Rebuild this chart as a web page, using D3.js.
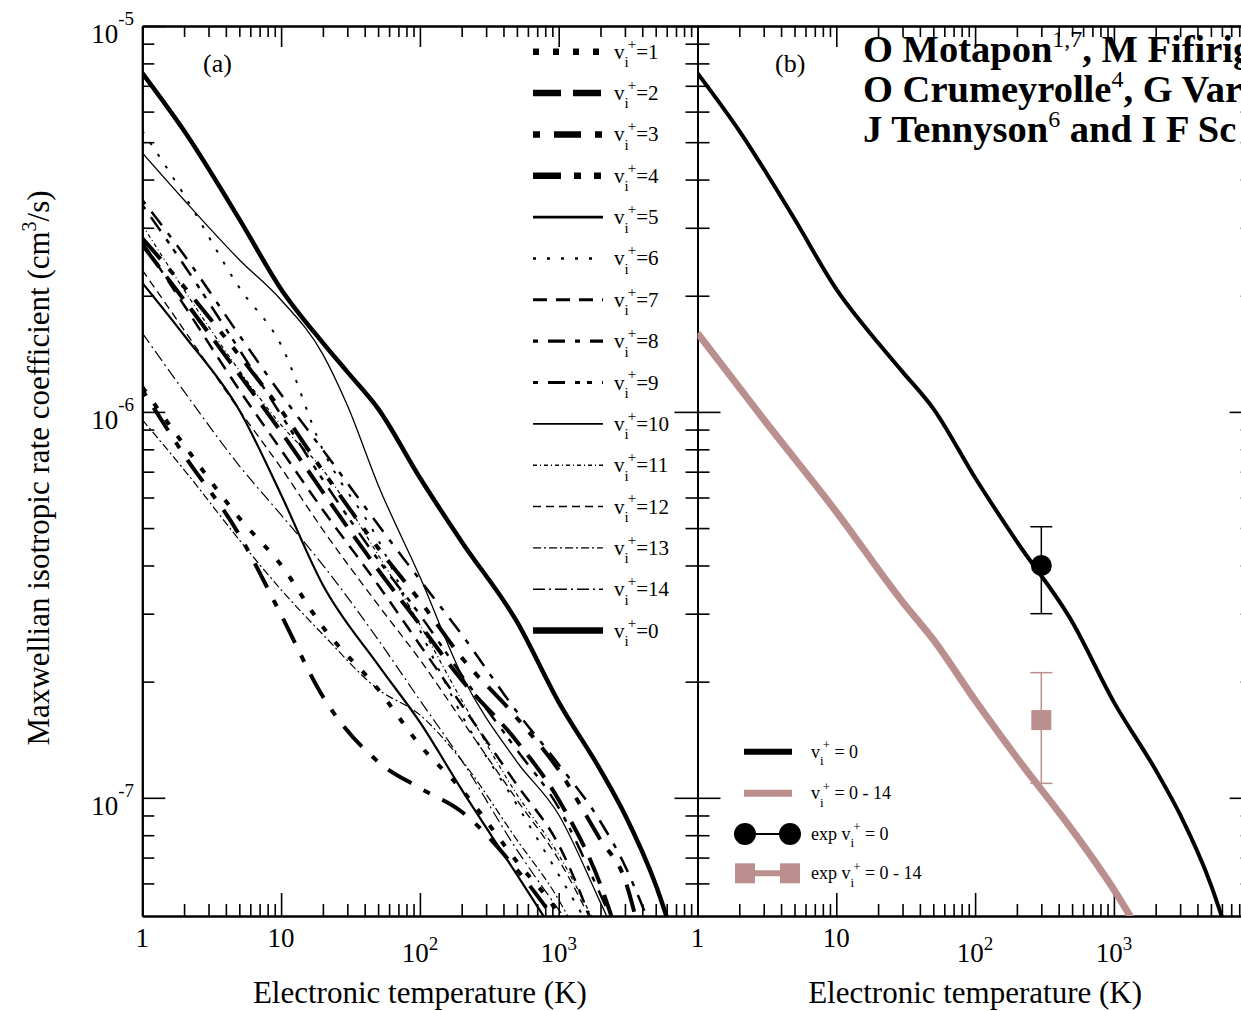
<!DOCTYPE html>
<html><head><meta charset="utf-8">
<script src="https://cdn.jsdelivr.net/npm/d3@7"></script>
<style>
body{margin:0;background:#fff;overflow:hidden}
svg{display:block}
text{font-family:"Liberation Serif","Times New Roman",serif;fill:#000}
</style></head>
<body><svg id="c" width="1241" height="1011"></svg>
<script>
// ---------------- DATA ----------------
// Panel (a): Maxwellian rate coefficients (cm^3/s) vs electronic temperature (K), per initial vibrational level
const tempV0=[1,2,5,10,20,30,50,100,200,500,1000,2000,3000,5000,6500];
const rateV0=[7.55e-6,5.35e-6,3.16e-6,2.08e-6,1.51e-6,1.27e-6,1.02e-6,6.75e-7,4.61e-7,2.86e-7,1.77e-7,1.18e-7,9.04e-8,5.95e-8,4.50e-8];
const tempV1=[1,2,5,10,20,50,100,200,500,1000,1200];
const rateV1=[1.16e-6,8.21e-7,5.31e-7,4.01e-7,2.77e-7,1.91e-7,1.37e-7,1.05e-7,6.83e-8,4.98e-8,4.42e-8];
const tempV2=[1,2,5,10,20,50,100,200,500,1000,2000,2800];
const rateV2=[2.71e-6,1.95e-6,1.25e-6,8.88e-7,6.20e-7,3.90e-7,2.81e-7,2.02e-7,1.40e-7,9.88e-8,5.95e-8,4.16e-8];
const tempV3=[1,2,5,10,20,50,100,200,500,1000];
const rateV3=[1.14e-6,7.74e-7,4.80e-7,2.98e-7,1.83e-7,1.24e-7,1.06e-7,9.20e-8,6.51e-8,4.69e-8];
const tempV4=[1,2,5,10,20,50,100,200,500,1000,2000,3000,4000];
const rateV4=[2.82e-6,2.11e-6,1.40e-6,1.01e-6,7.03e-7,4.44e-7,3.24e-7,2.31e-7,1.61e-7,1.18e-7,7.78e-8,6.13e-8,4.16e-8];
const tempV5=[1,2,5,10,20,50,100,200,500,1000];
const rateV5=[2.16e-6,1.58e-6,1.01e-6,6.10e-7,3.56e-7,2.21e-7,1.57e-7,1.05e-7,6.32e-8,4.29e-8];
const tempV6=[1,2,5,10,20,50,100,200,500,1000,1600];
const rateV6=[5.35e-6,3.65e-6,2.10e-6,1.49e-6,7.97e-7,4.66e-7,2.72e-7,1.64e-7,9.59e-8,6.32e-8,4.74e-8];
const tempV7=[1,2,5,10,20,50,100,200,500,1000,2000];
const rateV7=[2.76e-6,1.89e-6,1.14e-6,7.97e-7,5.57e-7,3.56e-7,2.49e-7,1.74e-7,1.08e-7,7.55e-8,4.16e-8];
const tempV8=[1,2,5,10,20,50,100,200,500,1000,2000,3000,4000,5000];
const rateV8=[3.54e-6,2.55e-6,1.58e-6,1.11e-6,7.97e-7,5.10e-7,3.67e-7,2.65e-7,1.67e-7,1.22e-7,8.67e-8,6.67e-8,5.25e-8,4.29e-8];
const tempV9=[1,2,5,10,20,50,100,200,500,1000,2000,2600];
const rateV9=[3.44e-6,2.40e-6,1.45e-6,9.82e-7,6.67e-7,4.14e-7,2.98e-7,2.08e-7,1.33e-7,9.42e-8,5.61e-8,4.55e-8];
const tempV10=[1,2,5,10,20,30,50,100,200,500,1000,2000,2500];
const rateV10=[4.69e-6,3.54e-6,2.48e-6,1.95e-6,1.41e-6,1.04e-6,6.47e-7,3.74e-7,2.08e-7,1.24e-7,9.04e-8,5.35e-8,4.50e-8];
const tempV11=[1,2,5,10,20,50,100,200,500,1000,2000];
const rateV11=[3.05e-6,2.07e-6,1.28e-6,9.25e-7,7.08e-7,4.26e-7,2.81e-7,1.79e-7,1.02e-7,7.12e-8,4.42e-8];
const tempV12=[1,2,5,10,20,50,100,200,500,1000,2000];
const rateV12=[2.33e-6,1.63e-6,1.01e-6,7.16e-7,4.95e-7,3.16e-7,2.28e-7,1.59e-7,9.88e-8,6.91e-8,4.29e-8];
const tempV13=[1,2,5,10,20,50,100,200,500,1000,1200];
const rateV13=[9.54e-7,7.08e-7,4.66e-7,3.46e-7,2.65e-7,1.91e-7,1.64e-7,1.25e-7,7.78e-8,5.44e-8,4.83e-8];
const tempV14=[1,2,5,10,20,50,100,200,500,1000,1200];
const rateV14=[1.60e-6,1.13e-6,7.25e-7,5.41e-7,4.01e-7,2.57e-7,1.79e-7,1.25e-7,7.33e-8,5.13e-8,4.69e-8];

// Panel (b): v=0 (same as above) and summed v=0-14
const tempSum=[1,3,10,30,50,100,200,500,1000,1500];
const rateSum=[1.60e-6,9.56e-7,5.51e-7,3.22e-7,2.57e-7,1.79e-7,1.27e-7,8.26e-8,5.78e-8,4.55e-8];
// experiment
const expTemp=[300];
const expRateV0=[4.0e-7], expLowV0=[3.0e-7], expHighV0=[5.04e-7];
const expRateSum=[1.59e-7], expLowSum=[1.09e-7], expHighSum=[2.11e-7];

// axis ticks
const xMajorTicks=[1,10,100,1000,10000];
const xLabels=["1","10","10|2","10|3"];
const yMajorTicks=[1e-7,1e-6,1e-5];
const yLabelExp=["-7","-6","-5"];
const legendOrder=[1,2,3,4,5,6,7,8,9,10,11,12,13,14,0];

// ---------------- STYLE ----------------
const seriesA={0:[tempV0,rateV0],1:[tempV1,rateV1],2:[tempV2,rateV2],3:[tempV3,rateV3],4:[tempV4,rateV4],
 5:[tempV5,rateV5],6:[tempV6,rateV6],7:[tempV7,rateV7],8:[tempV8,rateV8],9:[tempV9,rateV9],
 10:[tempV10,rateV10],11:[tempV11,rateV11],12:[tempV12,rateV12],13:[tempV13,rateV13],14:[tempV14,rateV14]};
const styles={
 1:{w:4,lw:6.5,d:"6,14"},
 2:{w:4,lw:6.5,d:"28,12"},
 3:{w:4,lw:6.5,d:"7,14,27,14"},
 4:{w:4,lw:6.5,d:"28,13,7,13,7,13"},
 5:{w:2.2,lw:2.6,d:null},
 6:{w:2,lw:2.5,d:"3,11"},
 7:{w:2.5,lw:3,d:"14,9"},
 8:{w:2.5,lw:3.2,d:"5,10,17,10"},
 9:{w:2.5,lw:3.2,d:"5,10,17,10,5,7"},
 10:{w:1.3,lw:1.6,d:null},
 11:{w:1.2,lw:1.4,d:"4,3,1,3"},
 12:{w:1.3,lw:1.6,d:"8,5"},
 13:{w:1.2,lw:1.4,d:"8,3,2,3"},
 14:{w:1.2,lw:1.4,d:"12,4,2,4"},
 0:{w:4.5,lw:6.5,d:null}
};
const pink="#bc8f8f";

// ---------------- GEOMETRY ----------------
const pTop=26,pBottom=916;
const aL=142.3,aR=697.5,bL=697.5,bR=1252.7;
const svg=d3.select("#c");
const y=d3.scaleLog().domain([4.94e-8,1e-5]).range([pBottom,pTop]);
const xa=d3.scaleLog().domain([1,1e4]).range([aL,aR]);
const xb=d3.scaleLog().domain([1,1e4]).range([bL,bR]);

const defs=svg.append("defs");
defs.append("clipPath").attr("id","clipA").append("rect").attr("x",aL).attr("y",pTop).attr("width",aR-aL).attr("height",pBottom-pTop);
defs.append("clipPath").attr("id","clipB").append("rect").attr("x",bL).attr("y",pTop).attr("width",bR-bL).attr("height",pBottom-pTop);

function minorTicks(lo,hi){const r=[];for(let e=lo;e<hi;e++){for(let m=2;m<=9;m++)r.push(m*Math.pow(10,e));}return r;}
const xMinor=minorTicks(0,4);
const yMinor=minorTicks(-8,-5).filter(v=>v>5.2e-8);

function drawAxes(x,L,R){
  const g=svg.append("g");
  const mk=(axisFn,scale,vals,size,tr)=>{
    const a=g.append("g").attr("transform",tr).call(axisFn(scale).tickValues(vals).tickSize(size).tickSizeOuter(0).tickFormat(""));
    a.select(".domain").attr("stroke","#000").attr("stroke-width",2);
    a.selectAll(".tick line").attr("stroke","#000").attr("stroke-width",1.6);
  };
  mk(d3.axisBottom,x,xMajorTicks,-23,`translate(0,${pBottom})`);
  mk(d3.axisBottom,x,xMinor,-12,`translate(0,${pBottom})`);
  mk(d3.axisTop,x,xMajorTicks,-21,`translate(0,${pTop})`);
  mk(d3.axisTop,x,xMinor,-11,`translate(0,${pTop})`);
  mk(d3.axisLeft,y,yMajorTicks,-23,`translate(${L},0)`);
  mk(d3.axisLeft,y,yMinor,-12,`translate(${L},0)`);
  mk(d3.axisRight,y,yMajorTicks,-23,`translate(${R},0)`);
  mk(d3.axisRight,y,yMinor,-12,`translate(${R},0)`);
  xMajorTicks.slice(0,4).forEach((v,i)=>{
    const parts=xLabels[i].split("|");
    if(parts.length===1){
      svg.append("text").attr("x",x(v)).attr("y",947).attr("text-anchor","middle").attr("font-size",27).text(parts[0]);
    } else {
      const t=svg.append("text").attr("x",x(v)).attr("y",962).attr("text-anchor","middle").attr("font-size",27);
      t.append("tspan").text(parts[0]);
      t.append("tspan").attr("font-size",19).attr("dy",-12).text(parts[1]);
    }
  });
  svg.append("text").attr("x",(L+R)/2).attr("y",1003).attr("text-anchor","middle").attr("font-size",31).text("Electronic temperature (K)");
}
drawAxes(xa,aL,aR);
drawAxes(xb,bL,bR);

// y tick labels (panel a only)
yMajorTicks.forEach((v,i)=>{
  const t=svg.append("text").attr("x",134).attr("y",y(v)+17).attr("text-anchor","end").attr("font-size",27);
  t.append("tspan").text("10");
  t.append("tspan").attr("font-size",19).attr("dy",-18).text(yLabelExp[i]);
});
// y title
{
  const t=svg.append("text").attr("transform","translate(49,468) rotate(-90)").attr("text-anchor","middle").attr("font-size",31);
  t.append("tspan").text("Maxwellian isotropic rate coefficient (cm");
  t.append("tspan").attr("font-size",20).attr("dy",-13).text("3");
  t.append("tspan").attr("dy",13).text("/s)");
}

// ---------------- PANEL A CURVES ----------------
const lineA=d3.line().x(d=>xa(d[0])).y(d=>y(d[1])).curve(d3.curveMonotoneX);
const lineB=d3.line().x(d=>xb(d[0])).y(d=>y(d[1])).curve(d3.curveMonotoneX);
const gA=svg.append("g").attr("clip-path","url(#clipA)");
legendOrder.forEach(v=>{
  const [ts,ks]=seriesA[v];
  const st=styles[v];
  gA.append("path").datum(ts.map((t,i)=>[t,ks[i]])).attr("d",lineA)
    .attr("fill","none").attr("stroke","#000").attr("stroke-width",st.w)
    .attr("stroke-dasharray",st.d).attr("stroke-linecap","butt");
});
svg.append("text").attr("x",203).attr("y",72).attr("font-size",26).text("(a)");

// legend a
function vText(sel,x,yy,rest,fs,sfs,pre){
  const t=sel.append("text").attr("x",x).attr("y",yy).attr("font-size",fs);
  if(pre) t.append("tspan").text(pre);
  t.append("tspan").text("v");
  t.append("tspan").attr("font-size",sfs).attr("dy",fs*0.4).text("i");
  t.append("tspan").attr("font-size",sfs).attr("dy",-fs*0.88).attr("dx",-1).text("+");
  t.append("tspan").attr("dy",fs*0.48).text(rest);
  return t;
}
legendOrder.forEach((v,i)=>{
  const ly=51.7+i*41.35, st=styles[v];
  svg.append("line").attr("x1",533).attr("x2",603).attr("y1",ly).attr("y2",ly)
    .attr("stroke","#000").attr("stroke-width",st.lw).attr("stroke-dasharray",st.d);
  vText(svg,614,ly+7,"="+v,21,15);
});

// ---------------- PANEL B ----------------
const gB=svg.append("g").attr("clip-path","url(#clipB)");
gB.append("path").datum(tempSum.map((t,i)=>[t,rateSum[i]])).attr("d",lineB)
  .attr("fill","none").attr("stroke",pink).attr("stroke-width",7);
gB.append("path").datum(tempV0.map((t,i)=>[t,rateV0[i]])).attr("d",lineB)
  .attr("fill","none").attr("stroke","#000").attr("stroke-width",4);
expTemp.forEach((t,i)=>{
  const cx=xb(t);
  gB.append("line").attr("x1",cx).attr("x2",cx).attr("y1",y(expLowV0[i])).attr("y2",y(expHighV0[i])).attr("stroke","#000").attr("stroke-width",1.5);
  [expLowV0[i],expHighV0[i]].forEach(v=>gB.append("line").attr("x1",cx-11).attr("x2",cx+11).attr("y1",y(v)).attr("y2",y(v)).attr("stroke","#000").attr("stroke-width",1.5));
  gB.append("circle").attr("cx",cx).attr("cy",y(expRateV0[i])).attr("r",10.5).attr("fill","#000");
  gB.append("line").attr("x1",cx).attr("x2",cx).attr("y1",y(expLowSum[i])).attr("y2",y(expHighSum[i])).attr("stroke",pink).attr("stroke-width",1.5);
  [expLowSum[i],expHighSum[i]].forEach(v=>gB.append("line").attr("x1",cx-11).attr("x2",cx+11).attr("y1",y(v)).attr("y2",y(v)).attr("stroke",pink).attr("stroke-width",1.5));
  gB.append("rect").attr("x",cx-10).attr("y",y(expRateSum[i])-10).attr("width",20).attr("height",20).attr("fill",pink);
});
svg.append("text").attr("x",775).attr("y",72).attr("font-size",26).text("(b)");

// legend b
const lb=[751.7,793.3,834,873.3];
svg.append("line").attr("x1",744).attr("x2",792).attr("y1",lb[0]).attr("y2",lb[0]).attr("stroke","#000").attr("stroke-width",6);
svg.append("line").attr("x1",744).attr("x2",792).attr("y1",lb[1]).attr("y2",lb[1]).attr("stroke",pink).attr("stroke-width",7);
svg.append("line").attr("x1",745).attr("x2",790).attr("y1",lb[2]).attr("y2",lb[2]).attr("stroke","#000").attr("stroke-width",2);
[745,790].forEach(cx=>svg.append("circle").attr("cx",cx).attr("cy",lb[2]).attr("r",11).attr("fill","#000"));
svg.append("line").attr("x1",745).attr("x2",790).attr("y1",lb[3]).attr("y2",lb[3]).attr("stroke",pink).attr("stroke-width",6);
[745,790].forEach(cx=>svg.append("rect").attr("x",cx-10).attr("y",lb[3]-10).attr("width",20).attr("height",20).attr("fill",pink));
vText(svg,811,lb[0]+6," = 0",18,13);
vText(svg,811,lb[1]+6," = 0 - 14",18,13);
vText(svg,811,lb[2]+6," = 0",18,13,"exp ");
vText(svg,811,lb[3]+6," = 0 - 14",18,13,"exp ");

// author block (cropped at right edge)
const authors=[["O Motapon","1,7",", M Fifirig"],["O Crumeyrolle","4",", G Var"],["J Tennyson","6"," and I F Sc"]];
authors.forEach((a,i)=>{
  const t=svg.append("text").attr("x",863).attr("y",62+i*40).attr("font-size",38.5).attr("font-weight","bold");
  t.append("tspan").text(a[0]);
  t.append("tspan").attr("font-size",24).attr("font-weight","normal").attr("dy",-15).text(a[1]);
  t.append("tspan").attr("dy",15).text(a[2]);
});
</script></body></html>
